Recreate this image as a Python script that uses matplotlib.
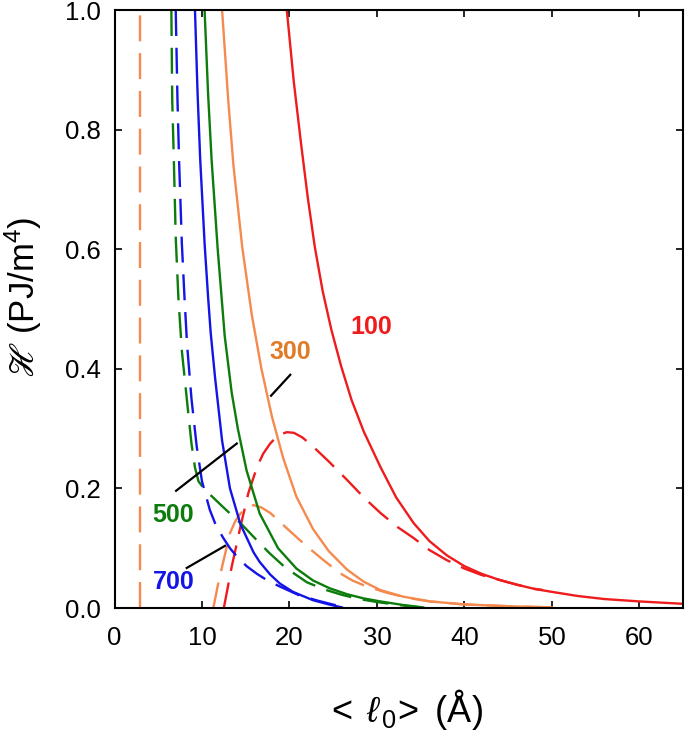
import matplotlib
matplotlib.use("Agg")
from matplotlib import pyplot as plt

plt.rcParams['font.family'] = ['Liberation Sans', 'DejaVu Sans']
plt.rcParams['mathtext.fontset'] = 'custom'
plt.rcParams['mathtext.rm'] = 'Liberation Sans'
plt.rcParams['mathtext.it'] = 'Liberation Sans:italic'
plt.rcParams['mathtext.bf'] = 'Liberation Sans:bold'
plt.rcParams['mathtext.fallback'] = 'stix'

# ---- data (x in Angstrom, H in PJ/m^4) ----
# T = 100
x100_solid = [19.7, 20.5, 21.3, 22.1, 22.9, 23.8, 24.8, 25.9, 27.1, 28.5, 30.4, 32.2, 34.2, 36.0, 38.0,
              40.0, 42.0, 44.0, 46.0, 48.0, 50.0, 53.0, 56.0, 60.0, 65.0]
y100_solid = [1.0, 0.88, 0.78, 0.686, 0.604, 0.53, 0.465, 0.405, 0.348, 0.295, 0.236, 0.185, 0.142, 0.112, 0.088,
              0.070, 0.057, 0.047, 0.039, 0.032, 0.027, 0.020, 0.015, 0.011, 0.007]
x100_dash = [12.5, 13.4, 14.4, 15.3, 16.3, 17.0, 17.8, 18.7, 19.7, 20.5, 21.5, 22.7, 24.5, 26.6, 28.5, 30.4,
             32.3, 34.2, 36.0, 38.0, 40.0, 42.0, 44.0, 46.0, 48.0, 49.0]
y100_dash = [0.0, 0.069, 0.136, 0.192, 0.236, 0.258, 0.275, 0.289, 0.294, 0.293, 0.285, 0.27, 0.245, 0.214, 0.185, 0.159,
             0.136, 0.117, 0.097, 0.080, 0.066, 0.055, 0.047, 0.039, 0.032, 0.030]

# T = 300
x300_solid = [12.3, 13.0, 13.6, 14.6, 15.7, 16.8, 18.0, 19.3, 20.8, 22.7, 24.5, 26.6, 28.5, 30.4, 33.0,
              36.1, 40.0, 45.0, 50.0]
y300_solid = [1.0, 0.85, 0.74, 0.604, 0.49, 0.40, 0.32, 0.25, 0.186, 0.132, 0.095, 0.064, 0.044, 0.030, 0.019,
              0.011, 0.006, 0.003, 0.001]
x300_dash = [11.3, 11.8, 12.3, 12.8, 13.2, 13.8, 14.4, 15.1, 15.9, 16.8, 17.8, 18.7, 19.5, 20.7, 22.0, 23.9,
             25.8, 27.2, 28.5, 31.0, 33.5, 36.0, 40.0, 45.0, 50.0]
y300_dash = [0.0, 0.037, 0.069, 0.10, 0.125, 0.145, 0.158, 0.168, 0.172, 0.168, 0.159, 0.147, 0.136, 0.12, 0.103, 0.08,
             0.058, 0.046, 0.038, 0.026, 0.017, 0.011, 0.006, 0.003, 0.001]
x300_vert = [2.9, 2.9]
y300_vert = [0.0, 1.0]

# T = 500
x500_solid = [10.3, 10.7, 11.1, 11.8, 12.6, 13.4, 14.1, 15.1, 16.6, 18.7, 20.8, 22.7, 24.6, 26.6, 28.5,
              30.4, 33.0, 35.3]
y500_solid = [1.0, 0.86, 0.75, 0.60, 0.455, 0.36, 0.30, 0.23, 0.158, 0.10, 0.066, 0.046, 0.033, 0.023, 0.016,
              0.011, 0.005, 0.001]
x500_dash = [6.5, 6.6, 6.8, 7.0, 7.3, 7.7, 8.3, 8.8, 9.2, 9.6, 10.2, 10.9, 12.4, 14.6, 15.9, 17.7, 19.5,
             22.0, 24.0, 26.0, 28.0, 30.0, 32.5, 35.0]
y500_dash = [1.0, 0.85, 0.74, 0.62, 0.52, 0.43, 0.345, 0.275, 0.235, 0.212, 0.200, 0.19, 0.169, 0.139, 0.119, 0.092, 0.068,
             0.043, 0.031, 0.022, 0.015, 0.010, 0.005, 0.001]

# T = 700
x700_solid = [9.2, 9.5, 9.8, 10.3, 10.7, 11.0, 11.5, 12.3, 13.2, 14.4, 15.9, 16.6, 17.8, 18.9, 20.4,
              22.7, 24.5, 26.0]
y700_solid = [1.0, 0.86, 0.75, 0.61, 0.52, 0.46, 0.385, 0.28, 0.20, 0.14, 0.093, 0.077, 0.056, 0.041, 0.027,
              0.013, 0.006, 0.001]
x700_dash = [7.0, 7.2, 7.4, 7.7, 8.0, 8.3, 8.8, 9.4, 10.0, 10.9, 11.6, 12.4, 13.2, 14.0, 15.1, 16.3, 17.6,
             18.9, 21.0, 23.3, 26.0]
y700_dash = [1.0, 0.85, 0.74, 0.61, 0.52, 0.44, 0.35, 0.27, 0.212, 0.164, 0.138, 0.118, 0.10, 0.086, 0.07, 0.057, 0.045,
             0.036, 0.022, 0.012, 0.002]

# curve labels and their pointer lines
labels = ["100", "300", "500", "700"]
label_x = [29.3, 20.1, 6.75, 6.75]
label_y = [0.47, 0.428, 0.156, 0.043]
pointers = {"300": ([17.9, 20.1], [0.355, 0.39]),
            "500": ([7.04, 13.98], [0.196, 0.275]),
            "700": ([8.26, 12.64], [0.067, 0.104])}

RED = '#EE1C1C'
ORANGE = '#F58A4E'
ORANGE_TXT = '#E07B28'
GREEN = '#0C7C0C'
BLUE = '#1414E6'
text_colors = [RED, ORANGE_TXT, GREEN, BLUE]

LW = 1.7
DASH = (11, 5)

fig = plt.figure(figsize=(6.85, 7.31), dpi=100)
ax = fig.add_axes([114.5 / 685, 123 / 731, (683 - 114.5) / 685, 598 / 731])

curves = [
    (x100_solid, y100_solid, RED, '-'), (x100_dash, y100_dash, RED, '--'),
    (x300_solid, y300_solid, ORANGE, '-'), (x300_dash, y300_dash, ORANGE, '--'),
    (x300_vert, y300_vert, ORANGE, '--'),
    (x500_solid, y500_solid, GREEN, '-'), (x500_dash, y500_dash, GREEN, '--'),
    (x700_solid, y700_solid, BLUE, '-'), (x700_dash, y700_dash, BLUE, '--'),
]
for xs, ys, c, ls in curves:
    if ls == '--':
        ax.plot(xs, ys, color=c, lw=LW, dashes=DASH)
    else:
        ax.plot(xs, ys, color=c, lw=LW)

for lab, lx, ly, c in zip(labels, label_x, label_y, text_colors):
    ax.text(lx, ly, lab, color=c, fontsize=18, fontweight='bold', ha='center', va='center')
    if lab in pointers:
        px, py = pointers[lab]
        ax.plot(px, py, color='black', lw=1.6)

ax.set_xlim(0, 65)
ax.set_ylim(0, 1.0)
ax.set_xticks([0, 10, 20, 30, 40, 50, 60])
ax.set_yticks([0.0, 0.2, 0.4, 0.6, 0.8, 1.0])
ax.set_yticklabels(['0.0', '0.2', '0.4', '0.6', '0.8', '1.0'])
ax.tick_params(direction='in', length=5, width=1.2, top=True, right=True, labelsize=18.5)
ax.tick_params(axis='x', pad=13)
ax.tick_params(axis='y', pad=10)
for sp in ax.spines.values():
    sp.set_linewidth(1.5)

fig.text(404 / 685, 1 - 710 / 731, r'$<\;\ell_{\,0}\!>$ (Å)', fontsize=26, ha='center', va='center')
fig.text(23 / 685, 1 - 297 / 731, r'$ℋ$ (PJ/m$^4$)', fontsize=25, ha='center', va='center', rotation=90)

fig.savefig('out.png', dpi=100)
